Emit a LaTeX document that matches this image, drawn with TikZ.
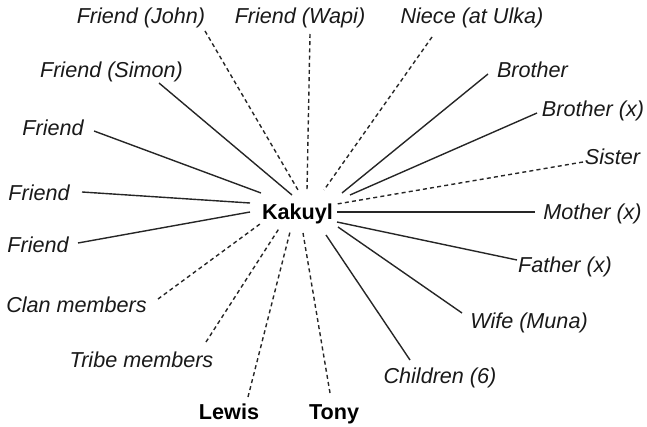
\documentclass[tikz,border=0pt]{standalone}
\usepackage{fontspec}
\setmainfont{Liberation Sans}
\begin{document}
\begin{tikzpicture}[x=0.5pt,y=-0.5pt,
  lbl/.style={font=\fontsize{10.8}{12}\selectfont\itshape, anchor=base, inner sep=0pt, text=black!90},
  blbl/.style={font=\fontsize{10.8}{12}\selectfont\bfseries, anchor=base, inner sep=0pt},
  solidlink/.style={line width=0.7pt, black!85},
  dashlink/.style={line width=0.7pt, black!85, dash pattern=on 2pt off 1.6pt}]
\useasboundingbox (0,0) rectangle (647,427);
% hub
\node[blbl] (hub) at (297.5,219.5) {Kakuyl};
% labels
\node[lbl] (john) at (141,23.5) {Friend (John)};
\node[lbl] (wapi) at (300,23.5) {Friend (Wapi)};
\node[lbl] (niece) at (472,23.5) {Niece (at Ulka)};
\node[lbl] (simon) at (111.5,77.5) {Friend (Simon)};
\node[lbl] (bro) at (532.5,77.5) {Brother};
\node[lbl] (fr1) at (53,135.5) {Friend};
\node[lbl] (brox) at (593,116.5) {Brother (x)};
\node[lbl] (sis) at (612.5,164.5) {Sister};
\node[lbl] (fr2) at (39,200.5) {Friend};
\node[lbl] (mom) at (592.5,219.5) {Mother (x)};
\node[lbl] (fr3) at (38,252.5) {Friend};
\node[lbl] (dad) at (565,272.5) {Father (x)};
\node[lbl] (clan) at (76.5,312.5) {Clan members};
\node[lbl] (wife) at (529,328.5) {Wife (Muna)};
\node[lbl] (tribe) at (141.5,367.5) {Tribe members};
\node[lbl] (kids) at (440,383.5) {Children (6)};
\node[blbl] (lewis) at (229,419.5) {Lewis};
\node[blbl] (tony) at (334,419.5) {Tony};
% connector end points
\coordinate (johnA) at (205,31);   \coordinate (johnB) at (298,190);
\coordinate (wapiA) at (310,34);   \coordinate (wapiB) at (307,190);
\coordinate (nieceA) at (432,37);  \coordinate (nieceB) at (324,190);
\coordinate (simonA) at (159,83);  \coordinate (simonB) at (292,195);
\coordinate (fr1A) at (94,131);    \coordinate (fr1B) at (261,193);
\coordinate (fr2A) at (82,192);    \coordinate (fr2B) at (250,203);
\coordinate (fr3A) at (78,243);    \coordinate (fr3B) at (250,212);
\coordinate (clanA) at (158,299);  \coordinate (clanB) at (260,224);
\coordinate (tribeA) at (206,342); \coordinate (tribeB) at (280,227);
\coordinate (lewisA) at (248,397); \coordinate (lewisB) at (290,232);
\coordinate (tonyA) at (330,393);  \coordinate (tonyB) at (303,233);
\coordinate (kidsA) at (410,360);  \coordinate (kidsB) at (326,235);
\coordinate (wifeA) at (462,313);  \coordinate (wifeB) at (338,227);
\coordinate (dadA) at (517,260);   \coordinate (dadB) at (337,222);
\coordinate (momA) at (535,212);   \coordinate (momB) at (337,212);
\coordinate (sisA) at (583,162);   \coordinate (sisB) at (337,204);
\coordinate (broxA) at (537,113);  \coordinate (broxB) at (350,195);
\coordinate (broA) at (488,74);    \coordinate (broB) at (342,193);
% connectors
\draw[dashlink] (johnA) -- (johnB);
\draw[dashlink] (wapiA) -- (wapiB);
\draw[dashlink] (nieceA) -- (nieceB);
\draw[solidlink] (simonA) -- (simonB);
\draw[solidlink] (fr1A) -- (fr1B);
\draw[solidlink] (fr2A) -- (fr2B);
\draw[solidlink] (fr3A) -- (fr3B);
\draw[dashlink] (clanA) -- (clanB);
\draw[dashlink] (tribeA) -- (tribeB);
\draw[dashlink] (lewisA) -- (lewisB);
\draw[dashlink] (tonyA) -- (tonyB);
\draw[solidlink] (kidsA) -- (kidsB);
\draw[solidlink] (wifeA) -- (wifeB);
\draw[solidlink] (dadA) -- (dadB);
\draw[solidlink] (momA) -- (momB);
\draw[dashlink] (sisA) -- (sisB);
\draw[solidlink] (broxA) -- (broxB);
\draw[solidlink] (broA) -- (broB);
\end{tikzpicture}
\end{document}
